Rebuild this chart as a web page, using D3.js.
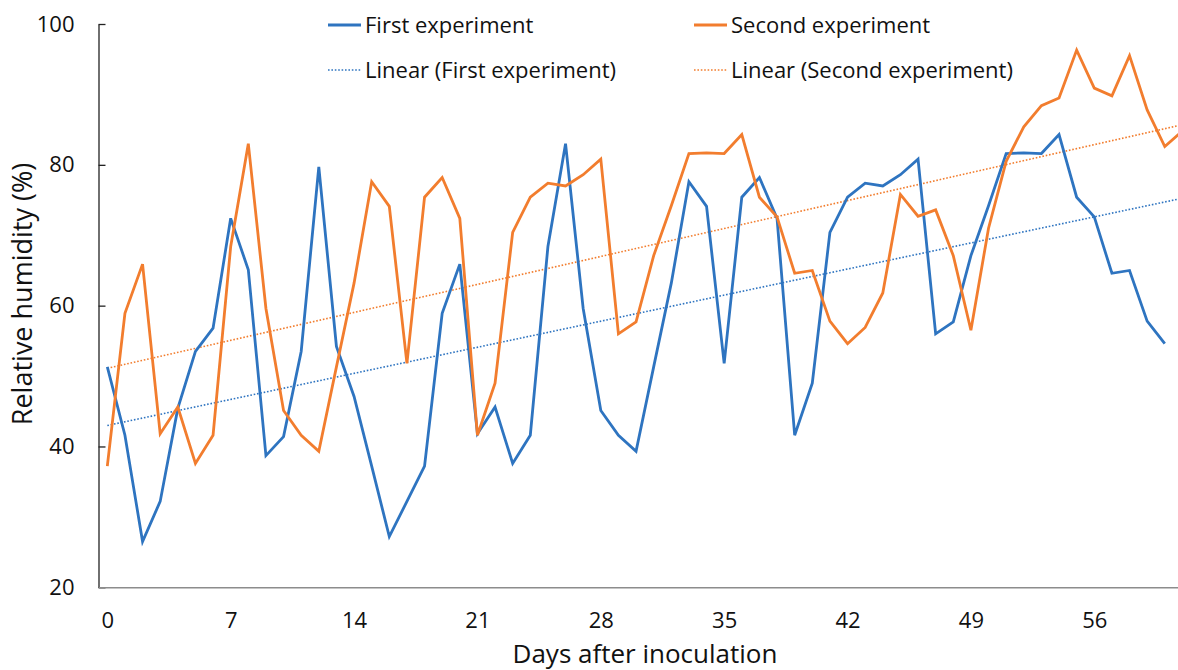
<!DOCTYPE html>
<html>
<head>
<meta charset="utf-8">
<script src="https://cdn.jsdelivr.net/npm/d3@7"></script>
<style>
  body { margin: 0; background: #fff; }
  text { font-family: "Open Sans", sans-serif; fill: #111; }
</style>
</head>
<body>
<div class="chart"></div>
<script>
// relative humidity (%) per day
const firstExperiment = [51.3, 41.6, 26.5, 32.2, 45.4, 53.5, 56.8, 72.4, 65.1, 38.7,
    41.4, 53.5, 79.7, 54.2, 47.1, 37.2, 27.2, 32.2, 37.2, 58.9,
    65.9, 41.8, 45.6, 37.6, 41.6, 68.4, 83.0, 59.6, 45.1, 41.6,
    39.3, 51.3, 63.2, 77.6, 74.1, 51.8, 75.4, 78.2, 72.4, 41.6,
    49.0, 70.4, 75.4, 77.4, 77.0, 78.6, 80.8, 56.0, 57.7, 67.1,
    74.2, 81.6, 81.7, 81.6, 84.3, 75.4, 72.6, 64.6, 65.0, 57.8, 54.6];
const secondExperiment = [37.2, 58.9, 65.9, 41.8, 45.6, 37.6, 41.6, 68.4, 83.0, 59.6,
    45.1, 41.6, 39.3, 51.3, 63.2, 77.6, 74.1, 51.8, 75.4, 78.2,
    72.4, 41.6, 49.0, 70.4, 75.4, 77.4, 77.0, 78.6, 80.8, 56.0,
    57.7, 67.1, 74.2, 81.6, 81.7, 81.6, 84.3, 75.4, 72.6, 64.6,
    65.0, 57.8, 54.6, 56.9, 61.8, 75.8, 72.7, 73.6, 67.1, 56.5,
    71.0, 80.5, 85.4, 88.4, 89.5, 96.3, 90.9, 89.8, 95.5, 87.8, 82.6, 84.8];
const xTicks = [0, 7, 14, 21, 28, 35, 42, 49, 56];
const yTicks = [20, 40, 60, 80, 100];
const seriesNames = ['First experiment', 'Second experiment'];

const width = 1178,
    height = 670,
    blue = '#2E74C0',
    orange = '#F27D2E';

const svg = d3.select('.chart').append('svg')
    .attr('width', width)
    .attr('height', height);

// category axis: points sit between tick marks, plot runs past the right edge
const x = d3.scaleLinear().domain([-0.5, 60.75]).range([98.5, 1178]);
const y = d3.scaleLinear().domain([20, 100]).range([587.3, 24]);

svg.append('defs').append('clipPath').attr('id', 'plot')
    .append('rect')
    .attr('x', 98.5).attr('y', 0)
    .attr('width', width - 98.5).attr('height', 600);

// least squares trend
function linearFit(values) {
    const mx = d3.mean(values, (v, i) => i),
        my = d3.mean(values);
    let sxy = 0, sxx = 0;
    values.forEach((v, i) => {
        sxy += (i - mx) * (v - my);
        sxx += (i - mx) * (i - mx);
    });
    const slope = sxy / sxx;
    return d => my + slope * (d - mx);
}

const plot = svg.append('g').attr('clip-path', 'url(#plot)');

const line = d3.line()
    .x((d, i) => x(i))
    .y(d => y(d));

[[firstExperiment, blue], [secondExperiment, orange]].forEach(([values, color]) => {
    const fit = linearFit(values);
    plot.append('line')
        .attr('x1', x(0)).attr('y1', y(fit(0)))
        .attr('x2', x(61)).attr('y2', y(fit(61)))
        .attr('stroke', color)
        .attr('stroke-width', 1.6)
        .attr('stroke-dasharray', '1.6,1.8');
});

[[firstExperiment, blue], [secondExperiment, orange]].forEach(([values, color]) => {
    plot.append('path')
        .datum(values)
        .attr('fill', 'none')
        .attr('stroke', color)
        .attr('stroke-width', 2.8)
        .attr('stroke-linejoin', 'miter')
        .attr('d', line);
});

// axes
const yAxis = svg.append('g')
    .attr('transform', 'translate(98.5,0)')
    .call(d3.axisLeft(y).tickValues(yTicks).tickSizeInner(-7).tickSizeOuter(0).tickPadding(24));
yAxis.select('.domain').attr('stroke', '#222').attr('stroke-width', 1.3);
yAxis.selectAll('.tick line').attr('stroke', '#222').attr('stroke-width', 1.3);
yAxis.selectAll('text').style('font-size', '22px').attr('fill', '#111');

const xAxis = svg.append('g')
    .attr('transform', 'translate(0,587.3)')
    .call(d3.axisBottom(x).tickValues(xTicks).tickSize(0).tickPadding(25));
xAxis.select('.domain').attr('stroke', '#8c8c8c').attr('stroke-width', 1.6);
xAxis.selectAll('text').style('font-size', '22px').attr('fill', '#111');

svg.append('text')
    .attr('transform', 'translate(32,294) rotate(-90)')
    .attr('text-anchor', 'middle')
    .style('font-size', '27px')
    .text('Relative humidity (%)');

svg.append('text')
    .attr('x', 645)
    .attr('y', 663)
    .attr('text-anchor', 'middle')
    .style('font-size', '26px')
    .text('Days after inoculation');

// legend
const legendItems = [
    { label: seriesNames[0], color: blue, dotted: false, x: 328, y: 25 },
    { label: seriesNames[1], color: orange, dotted: false, x: 694, y: 25 },
    { label: 'Linear (' + seriesNames[0] + ')', color: blue, dotted: true, x: 328, y: 70 },
    { label: 'Linear (' + seriesNames[1] + ')', color: orange, dotted: true, x: 694, y: 70 }
];
const legend = svg.append('g').selectAll('g').data(legendItems).join('g')
    .attr('transform', d => `translate(${d.x},${d.y})`);
legend.append('line')
    .attr('x1', 0).attr('x2', 33)
    .attr('stroke', d => d.color)
    .attr('stroke-width', d => d.dotted ? 1.6 : 2.8)
    .attr('stroke-dasharray', d => d.dotted ? '1.6,1.8' : null);
legend.append('text')
    .attr('x', 37)
    .attr('dy', '0.35em')
    .style('font-size', '22px')
    .text(d => d.label);
</script>
</body>
</html>
